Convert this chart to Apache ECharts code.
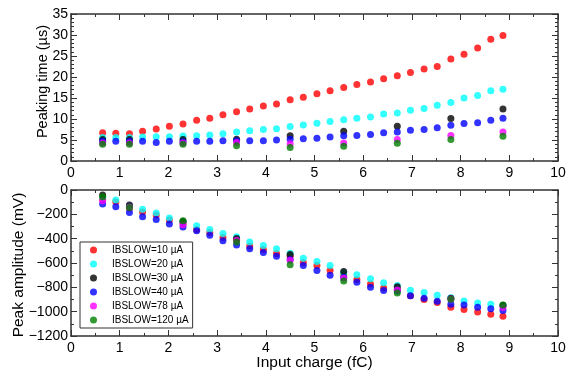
<!DOCTYPE html>
<html>
<head>
<meta charset="utf-8">
<script src="https://cdn.jsdelivr.net/npm/echarts@6/dist/echarts.min.js"></script>
<style>html,body{margin:0;padding:0;background:#fff}#c{width:566px;height:372px}</style>
</head>
<body>
<div id="c"></div>
<script>
// Input charge (fC)
var xs = [0.65,0.92,1.2,1.47,1.75,2.02,2.3,2.58,2.85,3.12,3.4,3.67,3.95,4.22,4.5,4.77,5.05,5.32,5.6,5.87,6.15,6.42,6.7,6.97,7.25,7.52,7.8,8.07,8.35,8.62,8.87];
var xsSub = [0.65,1.2,2.3,3.4,4.5,5.6,6.7,7.8,8.87];
var names = ['IBSLOW=10 µA','IBSLOW=20 µA','IBSLOW=30 µA','IBSLOW=40 µA','IBSLOW=78 µA','IBSLOW=120 µA'];
// Peaking time (µs)
var t10 = [6.7,6.6,6.5,7.1,7.6,8.3,8.8,9.7,10.2,11.0,11.7,12.4,13.1,13.6,14.6,15.2,16.0,16.7,17.5,18.2,18.8,19.6,20.3,21.1,21.9,22.5,24.3,25.4,26.9,29.0,29.9];
var t20 = [5.6,5.6,5.6,5.7,5.8,5.8,5.95,6.0,6.2,6.5,6.9,7.2,7.5,7.7,8.2,8.6,9.0,9.4,9.8,10.2,10.5,11.2,11.4,12.1,12.5,13.3,13.9,15.0,15.6,16.7,17.1];
var t30 = [5.1,5.1,5.1,5.2,6.0,7.1,8.3,10.1,12.4];
var t40 = [4.7,4.7,4.7,4.7,4.4,4.7,4.6,4.7,4.7,4.8,4.8,4.8,4.8,5.0,5.2,5.3,5.4,5.7,6.0,6.1,6.3,6.7,6.9,7.3,7.5,7.9,8.5,8.9,9.1,9.7,10.2];
var t78 = [4.3,4.3,4.3,4.4,4.1,4.3,5.1,6.1,6.9];
var t120 = [4.0,4.0,4.0,3.65,3.2,3.5,4.2,5.1,5.9];
// Peak amplitude (mV)
var a10 = [-78,-99,-151,-181,-206,-247,-275,-324,-349,-390,-406,-461,-489,-522,-544,-596,-621,-662,-700,-736,-772,-805,-815,-870,-901,-925,-964,-983,-1002,-1021,-1038];
var a20 = [-62,-82,-130,-159,-189,-231,-262,-294,-324,-357,-385,-428,-456,-483,-520,-560,-588,-621,-680,-697,-730,-763,-785,-824,-843,-865,-885,-912,-928,-939,-950];
var a30 = [-41,-124,-258,-398,-530,-670,-796,-890,-948];
var a40 = [-115,-137,-184,-220,-242,-280,-305,-335,-371,-417,-453,-483,-513,-544,-571,-621,-662,-700,-719,-758,-799,-826,-830,-870,-890,-914,-939,-945,-964,-975,-991];
var a78 = [-88,-140,-286,-412,-577,-725,-821,-895,-966];
var a120 = [-55,-143,-253,-428,-615,-747,-846,-898,-945];

var colors = ['#ff0000','#00ffff','#000000','#0000ff','#ff00ff','#008000'];
var topSets = [[xs,t10],[xs,t20],[xsSub,t30],[xs,t40],[xsSub,t78],[xsSub,t120]];
var botSets = [[xs,a10],[xs,a20],[xsSub,a30],[xs,a40],[xsSub,a78],[xsSub,a120]];

function pairs(x, y){ return x.map(function(v,i){ return [v, y[i]]; }); }

var font = '"Liberation Sans", Arial, sans-serif';
var lineStyle = {color:'#333', width:1.5};
function fmt(v){ return String(v).replace('-', '\u2212'); }
function xAx(grid, pos, labels, name){
  return {type:'value', gridIndex:grid, position:pos, min:0, max:10, interval:1,
    axisLine:{show:true, onZero:false, lineStyle:lineStyle},
    axisTick:{show:true, inside:true, length:6, lineStyle:{color:'#333', width:1}},
    minorTick:{show:true, splitNumber:2, length:3, lineStyle:{color:'#333', width:1}},
    splitLine:{show:false}, minorSplitLine:{show:false},
    axisLabel:{show:labels, fontFamily:font, fontSize:14, color:'#000', margin:5, formatter:fmt},
    name:name||'', nameLocation:'middle', nameGap:19, nameMoveOverlap:false,
    nameTextStyle:{fontFamily:font, fontSize:15.5, color:'#000'}};
}
function yAx(grid, pos, labels, min, max, interval, minorN, name, gap, fs, pad){
  return {type:'value', gridIndex:grid, position:pos, min:min, max:max, interval:interval,
    axisLine:{show:true, onZero:false, lineStyle:lineStyle},
    axisTick:{show:true, inside:true, length:6, lineStyle:{color:'#333', width:1}},
    minorTick:{show:true, splitNumber:minorN, length:3, lineStyle:{color:'#333', width:1}},
    splitLine:{show:false}, minorSplitLine:{show:false},
    axisLabel:{show:labels, fontFamily:font, fontSize:14, color:'#000', margin:3, formatter:fmt},
    name:name||'', nameLocation:'middle', nameRotate:90, nameGap:gap||0, nameMoveOverlap:false,
    nameTextStyle:{fontFamily:font, fontSize:fs||14, color:'#000', padding:pad||0}};
}

var series = [];
for (var i=0;i<6;i++){
  series.push({type:'scatter', name:names[i], xAxisIndex:0, yAxisIndex:0, symbolSize:7,
    itemStyle:{color:colors[i], opacity:0.8}, data:pairs(topSets[i][0], topSets[i][1])});
}
for (var j=0;j<6;j++){
  series.push({type:'scatter', name:names[j], xAxisIndex:2, yAxisIndex:2, symbolSize:7,
    itemStyle:{color:colors[j], opacity:0.8}, data:pairs(botSets[j][0], botSets[j][1])});
}

var chart = echarts.init(document.getElementById('c'), null, {renderer:'canvas'});
chart.setOption({
  animation:false,
  backgroundColor:'#fff',
  grid:[{left:71, top:14, width:487, height:147, outerBoundsMode:'none', containLabel:false},
        {left:71, top:190, width:487, height:146, outerBoundsMode:'none', containLabel:false}],
  xAxis:[xAx(0,'bottom',true), xAx(0,'top',false), xAx(1,'bottom',true,'Input charge (fC)'), xAx(1,'top',false)],
  yAxis:[yAx(0,'left',true,0,35,5,5,'Peaking time (µs)',21,14.5,[0,0,0,12]), yAx(0,'right',false,0,35,5,5),
         yAx(1,'left',true,-1200,0,200,2,'Peak amplitude (mV)',44,15.5,[0,4,0,0]), yAx(1,'right',false,-1200,0,200,2)],
  legend:{data:names, orient:'vertical', left:80, top:242, padding:[1,4,1,10], itemGap:0,
    itemWidth:7, itemHeight:7, icon:'circle', borderColor:'#333', borderWidth:1,
    textStyle:{fontFamily:font, fontSize:10, color:'#000', lineHeight:14, padding:[0,0,0,10]}},
  series:series
});
</script>
</body>
</html>
